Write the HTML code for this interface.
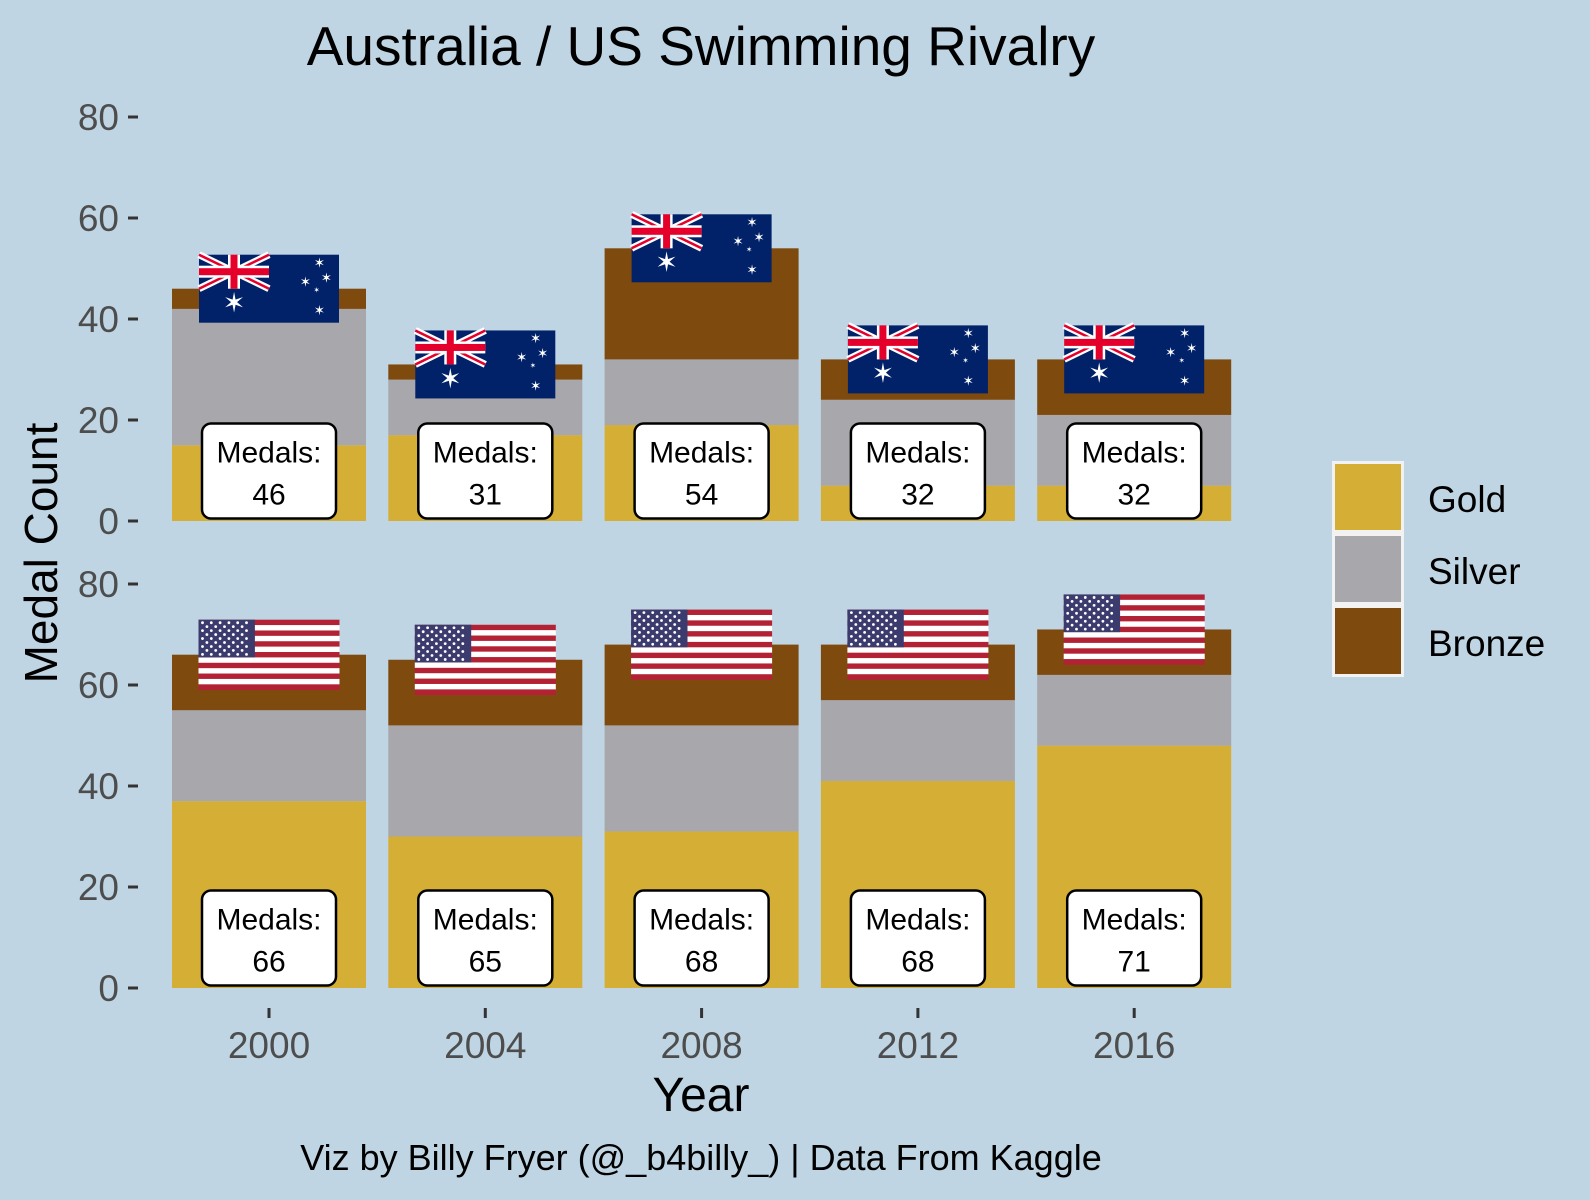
<!DOCTYPE html>
<html><head><meta charset="utf-8"><style>
body{margin:0;background:#bfd5e3}
svg{display:block;font-family:"Liberation Sans",Arial,sans-serif}
</style></head><body>
<svg id="chart" width="1590" height="1200" viewBox="0 0 1590 1200">
<rect x="0" y="0" width="1590" height="1200" fill="#bfd5e3"/>
<text x="701" y="65" text-anchor="middle" font-size="55" fill="#000">Australia / US Swimming Rivalry</text>
<text transform="translate(57,553) rotate(-90)" text-anchor="middle" font-size="46" fill="#000">Medal Count</text>
<text x="701" y="1111" text-anchor="middle" font-size="48" fill="#000">Year</text>
<text x="701" y="1170" text-anchor="middle" font-size="36" fill="#000">Viz by Billy Fryer (@_b4billy_) | Data From Kaggle</text>
<g id="plot"></g>
<g>
<rect x="1332" y="461" width="72" height="216" fill="#f2f2f2"/>
<rect x="1335" y="464" width="66" height="66" fill="#d5ae36"/>
<rect x="1335" y="536" width="66" height="66" fill="#a8a7ab"/>
<rect x="1335" y="608" width="66" height="66" fill="#7f4a0e"/>
<text x="1428" y="512" font-size="37">Gold</text>
<text x="1428" y="584" font-size="37">Silver</text>
<text x="1428" y="656" font-size="37">Bronze</text>
</g>
</svg>
<script>
const years = ["2000","2004","2008","2012","2016"];
const ausGold = [15,17,19,7,7];
const ausSilver = [27,11,13,17,14];
const ausBronze = [4,3,22,8,11];
const usaGold = [37,30,31,41,48];
const usaSilver = [18,22,21,16,14];
const usaBronze = [11,13,16,11,9];
const yTicks = [0,20,40,60,80];

const NS="http://www.w3.org/2000/svg";
const plot=document.getElementById('plot');
function mk(tag,attrs,parent){const e=document.createElementNS(NS,tag);for(const k in attrs)e.setAttribute(k,attrs[k]);(parent||plot).appendChild(e);return e;}
const xCenter=i=>269+i*216.3;
const barW=194, scale=5.05;
const panels=[{y0:521,country:'aus',g:ausGold,s:ausSilver,b:ausBronze},{y0:988,country:'usa',g:usaGold,s:usaSilver,b:usaBronze}];
const yPos=(p,v)=>p.y0-v*scale;

function ausFlag(cx,cy,parent){
  const w=140,h=68,x=cx-w/2,y=cy-h/2;
  const g=mk('g',{},parent);
  
  
  mk('rect',{x:x,y:y,width:w,height:h,fill:'#012169'},g);
  const uw=w/2,uh=h/2;
  mk('path',{d:`M${x},${y}L${x+uw},${y+uh}M${x+uw},${y}L${x},${y+uh}`,stroke:'#fff','stroke-width':7},g);
  mk('path',{d:`M${x},${y}L${x+uw},${y+uh}M${x+uw},${y}L${x},${y+uh}`,stroke:'#e4002b','stroke-width':2.5},g);
  mk('rect',{x:x+uw/2-6,y:y,width:12,height:uh,fill:'#fff'},g);
  mk('rect',{x:x,y:y+uh/2-6,width:uw,height:12,fill:'#fff'},g);
  mk('rect',{x:x+uw/2-3.5,y:y,width:7,height:uh,fill:'#e4002b'},g);
  mk('rect',{x:x,y:y+uh/2-3.5,width:uw,height:7,fill:'#e4002b'},g);
  const stars=[[x+uw/2,y+h*0.75,9],[x+w*0.86,y+h*0.14,4.5],[x+w*0.91,y+h*0.36,4.5],[x+w*0.76,y+h*0.42,4.5],[x+w*0.84,y+h*0.53,2.5],[x+w*0.86,y+h*0.84,4.5]];
  stars.forEach(s=>mk('text',{x:s[0],y:s[1]+s[2]*0.7,'text-anchor':'middle','font-size':s[2]*3,fill:'#fff'},g).textContent='✶');
}
function usFlag(cx,cy,parent){
  const w=141,h=70,x=cx-w/2,y=cy-h/2;
  const g=mk('g',{},parent);
  
  
  const sh=h/13;
  for(let i=0;i<13;i++)mk('rect',{x:x,y:y+i*sh,width:w,height:sh+0.3,fill:i%2?'#fff':'#b22234'},g);
  mk('rect',{x:x,y:y,width:w*0.4,height:sh*7,fill:'#3c3b6e'},g);
  for(let r=0;r<9;r++){const n=r%2?5:6;for(let c=0;c<n;c++){
    mk('circle',{cx:x+4+(c+(r%2?0.5:0))*(w*0.4-8)/5.5,cy:y+3+r*(sh*7-6)/8,r:1.4,fill:'#fff'},g);}}
}

panels.forEach((p,pi)=>{
  yTicks.forEach(t=>{
    const y=yPos(p,t);
    const tk=mk('line',{x1:128,x2:138,y1:y,y2:y,stroke:'#333','stroke-width':3});
    
    
    const tl=mk('text',{x:119,y:y+13,'text-anchor':'end','font-size':37,fill:'#4d4d4d'});
    
    
    tl.textContent=t;
  });
  years.forEach((yr,i)=>{
    const cx=xCenter(i), x=cx-barW/2;
    const vals=[p.g[i],p.s[i],p.b[i]], cols=['#d5ae36','#a8a7ab','#7f4a0e'], nm=['gold','silver','bronze'];
    let acc=0;
    vals.forEach((v,k)=>{
      const r=mk('rect',{x:x,y:yPos(p,acc+v),width:barW,height:v*scale,fill:cols[k]});
      
      
      acc+=v;
    });
    if(p.country==='aus') ausFlag(cx,yPos(p,acc),plot); else usFlag(cx,yPos(p,acc),plot);
    const ly=yPos(p,10);
    const box=mk('rect',{x:cx-67,y:ly-47,width:134,height:95,rx:9,fill:'#fff',stroke:'#000','stroke-width':2.5});
    
    
    const t1=mk('text',{x:cx,y:ly-8,'text-anchor':'middle','font-size':30,fill:'#000'});
    
    
    t1.textContent='Medals:';
    const t2=mk('text',{x:cx,y:ly+34,'text-anchor':'middle','font-size':30,fill:'#000'});
    
    
    t2.textContent=acc;
    if(pi===1){
      const xt=mk('line',{x1:cx,x2:cx,y1:1008,y2:1018,stroke:'#333','stroke-width':3});
      
      
      const xl=mk('text',{x:cx,y:1058,'text-anchor':'middle','font-size':37,fill:'#4d4d4d'});
      
      
      xl.textContent=yr;
    }
  });
});
</script>
</body></html>
